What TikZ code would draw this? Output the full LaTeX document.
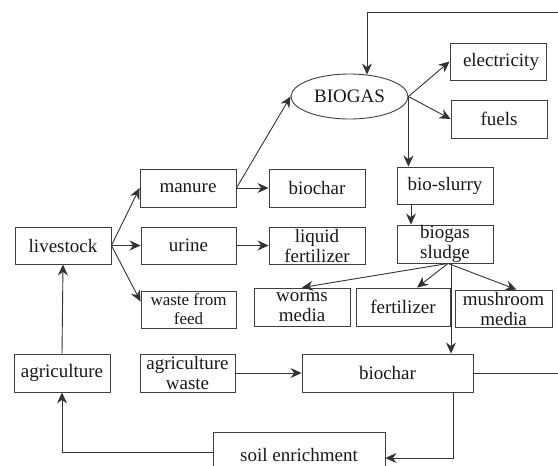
\documentclass[tikz,border=0pt]{standalone}
\usepackage{fontspec}
\setmainfont{Liberation Serif}
\usetikzlibrary{arrows.meta,shapes.geometric,calc}
\begin{document}
\begin{tikzpicture}[x=1pt,y=-1pt,
  box/.style={draw=black!75, line width=0.9pt, minimum width=96pt, minimum height=38pt,
    inner sep=0pt, font=\fontsize{19}{20}\selectfont, align=center, text=black!90},
  arr/.style={draw=black!80, line width=0.9pt, -{Stealth[length=11pt,width=10pt]}},
  ln/.style={draw=black!80, line width=0.9pt}]
\useasboundingbox[fill=white] (0,0) rectangle (558,466);

% nodes
\node[box, ellipse, minimum width=117pt, minimum height=45pt] (biogas) at (349.5,96.5) {BIOGAS};
\node[box, minimum height=37pt] (elec) at (498,61.5) {\hspace{6pt}electricity};
\node[box] (fuels) at (499,119) {fuels};
\node[box] (manure) at (188,188) {manure};
\node[box] (charA) at (317,188) {biochar};
\node[box, minimum width=95pt, minimum height=37pt] (urine) at (188.5,245.5) {urine};
\node[box, minimum height=37pt] (liq) at (317,245.5) {liquid\\fertilizer};
\node[box, minimum width=95pt, minimum height=37pt, font=\fontsize{17}{19}\selectfont] (waste) at (188.5,309.5) {waste from\\feed};
\node[box, minimum height=37pt] (livestock) at (63,245.5) {livestock};
\node[box, minimum height=37pt] (slurry) at (445,185.5) {bio-slurry};
\node[box] (sludge) at (445,244) {biogas\\sludge};
\node[box] (worms) at (302,307) {worms\\media};
\node[box, minimum width=94pt] (fert) at (403,307) {fertilizer};
\node[box, minimum width=97pt, minimum height=37pt] (mush) at (503.5,308.5) {mushroom\\media};
\node[box] (agri) at (62,373) {agriculture};
\node[box, minimum width=95pt] (aw) at (187.5,373) {agriculture\\waste};
\node[box, minimum width=171pt] (charB) at (387.5,373) {biochar};
\node[box, minimum width=172pt, minimum height=46pt] (soil) at (299,455) {soil enrichment};

% connectors
\draw[arr] (livestock.east) -- (manure.west);
\draw[arr] (livestock.east) -- (urine.west);
\draw[arr] (livestock.east) -- ([yshift=8pt]waste.west);
\draw[arr] (manure.east) -- (charA.west);
\draw[arr] (manure.east) -- (biogas.west);
\draw[arr] (urine.east) -- (liq.west);
\draw[arr] (biogas.east) -- (elec.west);
\draw[arr] (biogas.east) -- (fuels.west);
\draw[arr] (biogas.east) -- (biogas.east |- slurry.north);
\draw[arr] ([xshift=-34pt]slurry.south) -- ([xshift=-34pt]sludge.north);
\coordinate (s0) at ([xshift=3pt]sludge.south);
\draw[arr] (s0) -- (worms.north);
\draw[arr] (s0) -- ([xshift=14pt]fert.north);
\draw[arr] (s0) -- ([xshift=13pt]mush.north);
\coordinate (v0) at ([xshift=6pt]sludge.south);
\draw[arr] (v0) -- (v0 |- charB.north);
\draw[arr] (aw.east) -- (charB.west);
\draw[arr] ([xshift=65.5pt]charB.south) |- ([yshift=-3pt]soil.east);
\draw[arr] ([yshift=3pt]soil.west) -| (agri.south);
\draw[arr] (agri.north) -- (livestock.south);
\draw[arr] (charB.east) -- (575,373) -- (575,12) -- (367,12) -- ([xshift=17.5pt,yshift=-1pt]biogas.north);
\end{tikzpicture}
\end{document}
